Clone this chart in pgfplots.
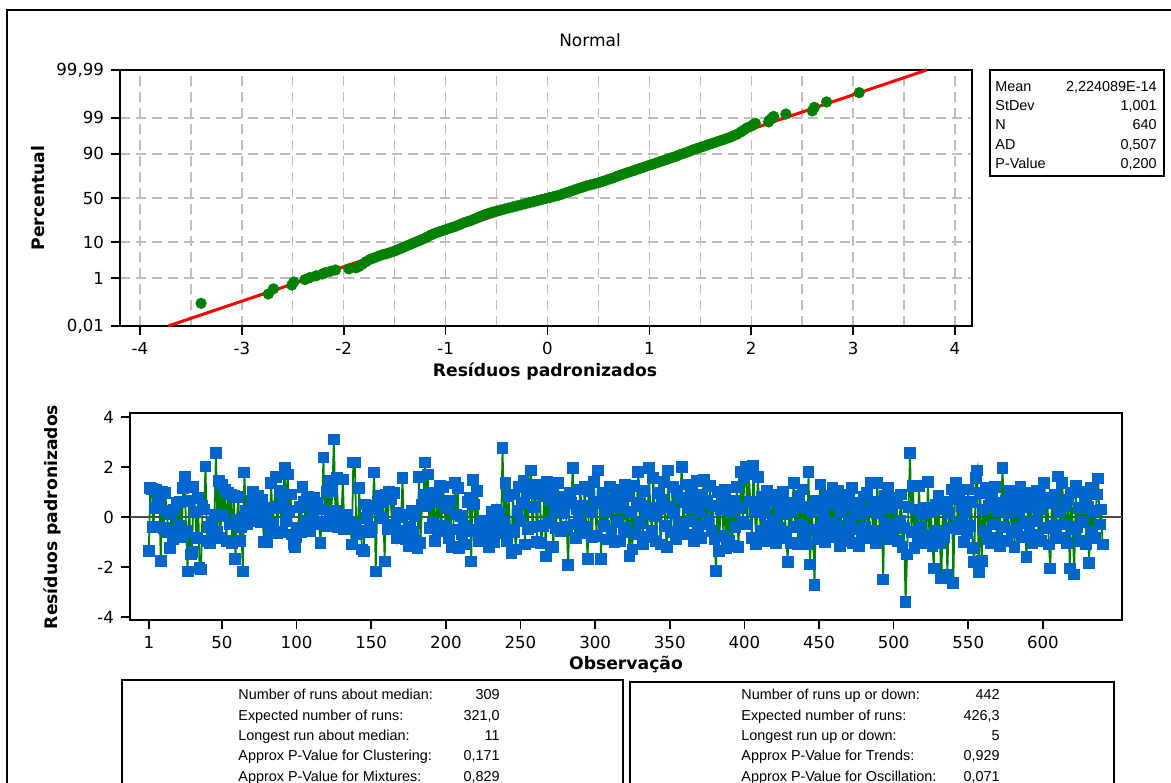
\documentclass[border=0pt]{standalone}
\usepackage{pgfplots}
\pgfplotsset{compat=1.18}
\usepackage{pgfplotstable}
\usepackage{fontspec}
\setmainfont{DejaVu Sans}
\newfontfamily\statfont{Liberation Sans}
\definecolor{mgreen}{RGB}{0,128,0}
\definecolor{mblue}{RGB}{0,102,204}
\definecolor{mred}{RGB}{255,0,0}
\definecolor{mgrid}{RGB}{190,190,190}

\pgfplotstableread[row sep=\\]{
y\\
-1.35\\ 1.15\\ 1.12\\ -0.40\\ 0.35\\ 1.10\\ 0.55\\ 0.80\\ -1.75\\ 1.00\\
-0.45\\ 0.95\\ 0.25\\ -0.60\\ -1.25\\ 0.10\\ -0.90\\ 0.30\\ -0.70\\ 0.55\\
-0.35\\ 0.60\\ -0.80\\ 1.15\\ 1.62\\ -0.55\\ -2.18\\ 0.65\\ -1.50\\ -1.40\\
1.20\\ 0.20\\ -0.85\\ 0.75\\ -2.05\\ -2.10\\ 0.45\\ 0.30\\ 2.02\\ -0.95\\
-0.40\\ -1.05\\ -0.20\\ -0.75\\ 0.10\\ 2.57\\ -0.60\\ 1.45\\ -0.85\\ 1.30\\
0.05\\ 1.10\\ -0.95\\ 0.95\\ -0.30\\ 0.90\\ -1.05\\ 0.85\\ -1.67\\ -0.10\\
0.80\\ -0.95\\ -0.40\\ -2.18\\ 1.78\\ 0.25\\ -0.30\\ 0.10\\ -0.15\\ 0.65\\
1.00\\ 0.40\\ -0.05\\ 0.85\\ 0.55\\ -0.20\\ 0.70\\ -1.00\\ 0.20\\ -1.00\\
0.30\\ -0.55\\ 1.35\\ -0.25\\ 0.35\\ 1.60\\ -0.65\\ 0.40\\ 1.05\\ -0.60\\
0.60\\ 1.95\\ -0.15\\ 1.70\\ 0.25\\ 0.90\\ -0.70\\ -1.10\\ -1.20\\ -0.80\\
-0.45\\ 0.40\\ -0.60\\ 1.20\\ 0.60\\ -0.15\\ 0.70\\ 0.80\\ -0.55\\ 0.45\\
0.10\\ 0.75\\ -0.30\\ 0.55\\ -0.20\\ -1.03\\ 0.30\\ 2.38\\ -0.25\\ 1.00\\
-0.35\\ 1.45\\ 0.05\\ 1.05\\ 3.10\\ 0.25\\ 1.55\\ -0.40\\ 0.05\\ -0.10\\
1.50\\ -0.50\\ -0.15\\ 0.10\\ -0.45\\ -0.20\\ -1.10\\ 2.18\\ 2.18\\ -0.30\\
-0.70\\ 1.15\\ -0.55\\ -1.30\\ -1.38\\ 0.50\\ -0.05\\ 0.30\\ -0.40\\ -0.60\\
0.45\\ 1.78\\ -2.18\\ 0.30\\ 0.65\\ 0.85\\ -0.05\\ 0.60\\ -1.78\\ 0.90\\
-0.50\\ 1.00\\ 0.70\\ -0.30\\ 0.95\\ -0.45\\ -0.85\\ 0.15\\ -0.55\\ 0.00\\
1.55\\ -0.75\\ -0.90\\ 0.10\\ -1.15\\ -0.40\\ 0.25\\ -0.60\\ 0.05\\ -0.95\\
-1.25\\ 1.60\\ -1.05\\ 0.50\\ 0.90\\ 2.18\\ 0.45\\ 1.70\\ -0.45\\ 0.95\\
-0.25\\ 0.60\\ -0.95\\ 0.80\\ -0.55\\ 1.25\\ -0.35\\ 1.20\\ 0.50\\ -0.40\\
0.35\\ -0.85\\ 0.65\\ -1.20\\ -0.50\\ 1.35\\ 0.10\\ 1.15\\ -1.25\\ 0.05\\
-0.70\\ -0.35\\ -1.10\\ -0.55\\ 0.60\\ 0.75\\ -1.78\\ 1.47\\ 0.50\\ -0.50\\
1.05\\ -0.95\\ -0.35\\ -0.15\\ -0.60\\ -0.25\\ -0.55\\ -0.90\\ -1.20\\ -0.35\\
0.20\\ -1.00\\ -0.10\\ 0.30\\ -0.65\\ 0.15\\ -0.55\\ 2.77\\ -0.20\\ 1.35\\
-0.95\\ 0.85\\ -0.50\\ -1.43\\ 0.90\\ -0.60\\ -1.30\\ 0.25\\ 1.20\\ -0.15\\
0.55\\ 1.45\\ -1.10\\ 0.95\\ -0.50\\ 1.25\\ 1.86\\ -0.40\\ 0.40\\ 1.30\\
-1.00\\ 0.90\\ 1.20\\ -1.05\\ -0.35\\ 0.85\\ -1.58\\ 1.40\\ -0.25\\ 0.70\\
1.10\\ -1.20\\ 0.25\\ -0.45\\ 1.35\\ 0.40\\ -0.55\\ 0.80\\ 0.15\\ 0.60\\
-0.40\\ -1.93\\ 0.95\\ 0.55\\ 1.97\\ -0.30\\ -0.85\\ 0.30\\ -0.15\\ 1.10\\
0.45\\ -0.65\\ 1.20\\ -0.40\\ -1.67\\ 1.05\\ 0.20\\ -0.80\\ 1.40\\ 0.55\\
-0.75\\ 1.86\\ 0.60\\ -1.67\\ 0.95\\ -0.35\\ 0.25\\ -0.90\\ 0.70\\ 1.20\\
-0.55\\ 0.40\\ -1.00\\ 0.75\\ -0.20\\ 1.10\\ -0.95\\ 0.35\\ -0.60\\ 1.30\\
-0.45\\ 0.85\\ -1.55\\ 0.20\\ -1.30\\ 1.25\\ -0.70\\ 0.55\\ 1.80\\ -0.25\\
0.45\\ -1.10\\ 1.05\\ 0.10\\ -0.80\\ 1.97\\ 0.35\\ -0.55\\ 1.55\\ 0.05\\
-0.95\\ 0.95\\ 0.30\\ -1.10\\ 0.70\\ 1.40\\ -0.35\\ -1.20\\ 1.86\\ 0.40\\
-0.60\\ 1.20\\ 0.15\\ -0.90\\ 1.05\\ -0.25\\ 0.75\\ 2.00\\ -0.50\\ 0.60\\
1.30\\ -0.70\\ 0.35\\ -0.15\\ 1.00\\ -0.95\\ 0.55\\ 1.45\\ -0.40\\ 0.20\\
-0.85\\ 0.90\\ 1.50\\ -0.30\\ 0.65\\ -0.10\\ 1.25\\ -0.55\\ 0.45\\ -0.90\\
-2.17\\ 1.00\\ -1.35\\ 0.30\\ 0.75\\ -0.75\\ 1.10\\ -1.25\\ 0.55\\ -0.95\\
0.20\\ -1.15\\ 0.65\\ -0.40\\ 1.20\\ -1.20\\ 0.35\\ 1.80\\ -0.20\\ 1.55\\
2.00\\ -0.30\\ 1.70\\ 0.60\\ -0.85\\ 2.06\\ 0.25\\ -1.10\\ 1.60\\ 0.40\\
-0.55\\ 0.80\\ -0.95\\ 0.15\\ 1.05\\ -0.35\\ 0.65\\ -0.70\\ 0.90\\ -0.15\\
-1.05\\ 0.70\\ -0.45\\ 0.30\\ -0.85\\ 1.00\\ 0.10\\ -0.60\\ -1.80\\ 0.55\\
-1.05\\ 0.25\\ 1.35\\ -0.40\\ 0.45\\ -1.10\\ 0.85\\ -0.30\\ 1.10\\ -0.75\\
0.40\\ -1.10\\ 1.80\\ -1.90\\ 0.20\\ -0.50\\ -2.73\\ 0.65\\ -0.90\\ 0.35\\
1.30\\ -0.45\\ 0.05\\ -1.00\\ 0.85\\ -0.60\\ 0.50\\ -0.25\\ 1.15\\ -0.80\\
0.60\\ -0.35\\ 1.05\\ -1.15\\ 0.20\\ 0.90\\ -0.65\\ 0.45\\ -0.95\\ 0.70\\
-0.20\\ 1.15\\ -1.05\\ 0.30\\ -0.50\\ 0.55\\ -1.15\\ 0.10\\ -0.75\\ 0.80\\
-0.40\\ 0.95\\ -0.85\\ 0.25\\ 1.35\\ -0.55\\ 0.60\\ -1.05\\ 1.35\\ 0.15\\
-0.70\\ 0.45\\ -2.50\\ 0.85\\ -0.25\\ 1.15\\ -0.90\\ 0.35\\ -0.60\\ 0.75\\
-0.30\\ 0.55\\ -0.95\\ -0.15\\ 0.90\\ -1.20\\ -0.45\\ -3.40\\ -1.50\\ 0.40\\
2.57\\ -0.60\\ 1.25\\ -1.25\\ 0.30\\ -0.85\\ 1.25\\ -0.40\\ 0.10\\ -1.05\\
0.35\\ -0.70\\ 1.39\\ -0.90\\ 0.20\\ -1.15\\ -2.06\\ 0.50\\ -0.55\\ 0.85\\
-1.05\\ -2.46\\ 0.30\\ -0.80\\ 0.60\\ -2.30\\ 0.15\\ -0.45\\ 1.10\\ -2.65\\
0.70\\ 1.35\\ -0.50\\ 0.90\\ -0.25\\ 0.45\\ -1.00\\ 0.20\\ -0.65\\ 1.10\\
-0.35\\ 0.60\\ -1.25\\ -1.80\\ 1.55\\ 1.86\\ -2.20\\ 0.95\\ -1.75\\ 0.30\\
-0.55\\ 1.15\\ -0.90\\ 0.45\\ -1.05\\ 0.75\\ -0.30\\ 1.20\\ -0.85\\ 0.25\\
-1.15\\ 0.55\\ 1.95\\ -0.40\\ 0.65\\ -0.95\\ 0.15\\ 1.05\\ -0.60\\ 0.35\\
-1.20\\ 0.85\\ -0.45\\ 0.25\\ 1.20\\ -0.80\\ 0.50\\ -0.25\\ -1.60\\ 0.95\\
-0.55\\ 0.40\\ -1.05\\ 0.70\\ -0.15\\ 1.05\\ -0.70\\ 0.30\\ -0.95\\ 0.60\\
1.37\\ -0.45\\ 0.75\\ -1.10\\ -2.06\\ 0.55\\ -0.35\\ 0.90\\ -0.75\\ 1.62\\
0.20\\ -0.85\\ 1.35\\ -0.30\\ 0.45\\ -1.05\\ 0.70\\ -2.06\\ 0.95\\ -0.50\\
-2.30\\ 1.25\\ -0.40\\ 0.35\\ -0.95\\ 1.00\\ -0.20\\ 0.70\\ -1.10\\ 0.40\\
-1.83\\ 1.15\\ -0.60\\ 0.25\\ -0.85\\ 0.90\\ 1.54\\ -0.30\\ 0.30\\ -1.10\\
}\resid

\begin{document}
\begin{tikzpicture}[x=1pt,y=1pt]
\useasboundingbox (0,0) rectangle (585.5,391);
\clip (0,0) rectangle (585.5,391);

% ---------- normal probability plot ----------
\begin{axis}[
  at={(60pt,228pt)}, anchor=south west,
  width=426pt, height=128pt, scale only axis,
  xmin=-4.196, xmax=4.167, ymin=-3.719, ymax=3.719,
  xtick={-4,-3,-2,-1,0,1,2,3,4},
  xticklabels={-4,-3,-2,-1,0,1,2,3,4},
  minor xtick={-3.5,-2.5,-1.5,-0.5,0.5,1.5,2.5,3.5},
  ytick={-3.719,-2.326,-1.2816,0,1.2816,2.326,3.719},
  yticklabels={{0,01},1,10,50,90,99,{99,99}},
  xmajorgrids, xminorgrids, ymajorgrids,
  grid style={mgrid, line width=0.7pt, dash pattern=on 5pt off 3pt},
  minor grid style={mgrid, line width=0.7pt, dash pattern=on 5pt off 3pt},
  tick align=outside, tick pos=left,
  major tick length=4.5pt, minor tick length=0pt,
  tick style={black, line width=0.8pt},
  axis line style={line width=0.9pt},
  ticklabel style={font=\fontsize{8.3}{10}\selectfont},
  clip=false,
]
\addplot[mred, line width=1.5pt] coordinates {(-3.723,-3.719) (3.723,3.719)};
\addplot[only marks, mark=*, mark size=2.6pt, mark options={fill=mgreen, draw=mgreen}] coordinates {
(-3.40,-3.06) (-2.74,-2.79) (-2.69,-2.64) (-2.51,-2.53) (-2.49,-2.44) (-2.38,-2.37)
(-2.33,-2.31) (-2.27,-2.26) (-2.21,-2.21) (-2.18,-2.17) (-2.13,-2.13) (-2.08,-2.09)
(-1.95,-2.06) (-1.88,-2.03)
(-1.85,-1.99) (-1.82,-1.93) (-1.78,-1.85) (-1.74,-1.78) (-1.70,-1.74) (-1.66,-1.69)
(-1.62,-1.65) (-1.58,-1.62) (-1.54,-1.58) (-1.50,-1.54) (-1.46,-1.49) (-1.42,-1.44)
(-1.38,-1.39) (-1.34,-1.34) (-1.30,-1.29) (-1.26,-1.24) (-1.22,-1.19) (-1.18,-1.13)
(-1.14,-1.07) (-1.10,-1.02) (-1.06,-0.98) (-1.02,-0.94) (-0.98,-0.90) (-0.94,-0.86)
(-0.90,-0.82) (-0.86,-0.77) (-0.82,-0.72) (-0.78,-0.68) (-0.74,-0.64) (-0.70,-0.59)
(-0.66,-0.54) (-0.62,-0.49) (-0.58,-0.45) (-0.54,-0.41) (-0.50,-0.38) (-0.46,-0.35)
(-0.42,-0.32) (-0.38,-0.29) (-0.34,-0.26) (-0.30,-0.23) (-0.26,-0.20) (-0.22,-0.17)
(-0.18,-0.14) (-0.14,-0.11) (-0.10,-0.08) (-0.06,-0.05) (-0.02,-0.02) (0.02,0.01)
(0.06,0.04) (0.10,0.07) (0.14,0.11) (0.18,0.15) (0.22,0.19) (0.26,0.23)
(0.30,0.27) (0.34,0.31) (0.38,0.35) (0.42,0.38) (0.46,0.41) (0.50,0.44)
(0.54,0.48) (0.58,0.52) (0.62,0.56) (0.66,0.60) (0.70,0.65) (0.74,0.69)
(0.78,0.73) (0.82,0.77) (0.86,0.81) (0.90,0.85) (0.94,0.89) (0.98,0.93)
(1.02,0.97) (1.06,1.01) (1.10,1.05) (1.14,1.09) (1.18,1.13) (1.22,1.17)
(1.26,1.21) (1.30,1.26) (1.34,1.30) (1.38,1.34) (1.42,1.39) (1.46,1.43)
(1.50,1.47) (1.54,1.51) (1.58,1.55) (1.62,1.59) (1.66,1.63) (1.70,1.67)
(1.74,1.71) (1.78,1.75) (1.82,1.80) (1.86,1.85) (1.90,1.92) (1.93,1.98)
(1.96,2.04) (2.00,2.09) (2.02,2.13) (2.04,2.17) (2.17,2.21) (2.18,2.26)
(2.20,2.31) (2.22,2.37) (2.34,2.44) (2.60,2.53) (2.62,2.635) (2.74,2.79)
(3.06,3.06)
};
\end{axis}

% ---------- run chart ----------
\begin{axis}[
  at={(65pt,81pt)}, anchor=south west,
  width=496pt, height=103.5pt, scale only axis,
  xmin=-11.6, xmax=653, ymin=-4.12, ymax=4.16,
  xtick={1,50,100,150,200,250,300,350,400,450,500,550,600},
  xticklabels={1,50,100,150,200,250,300,350,400,450,500,550,600},
  ytick={-4,-2,0,2,4},
  yticklabels={-4,-2,0,2,4},
  tick align=outside, tick pos=left,
  major tick length=4.5pt,
  tick style={black, line width=0.8pt},
  axis line style={line width=0.9pt},
  ticklabel style={font=\fontsize{8.3}{10}\selectfont},
]
\addplot[black!70, line width=0.9pt] coordinates {(-11.6,0) (653,0)};
\addplot[mgreen, line width=0.9pt, mark=square*, mark size=2.5pt,
  mark options={fill=mblue, draw=mblue, solid}]
  table[x expr=\coordindex+1, y=y] {\resid};
\end{axis}

% ---------- texts ----------
\node[font=\fontsize{8.5}{10}\selectfont] at (295,371) {Normal};
\node[font=\bfseries\fontsize{8.6}{10}\selectfont, rotate=90] at (19,292) {Percentual};
\node[font=\bfseries\fontsize{8.6}{10}\selectfont] at (272.5,205.5) {Resíduos padronizados};
\node[font=\bfseries\fontsize{8.6}{10}\selectfont, rotate=90] at (26,132.5) {Resíduos padronizados};
\node[font=\bfseries\fontsize{8.6}{10}\selectfont] at (313,59) {Observação};

% outer frame
\draw[line width=0.8pt] (3.5,-10) -- (3.5,386) -- (600,386);

% stats box (top right)
\draw[line width=0.9pt] (495,356) rectangle (582,303);
\begin{scope}[every node/.style={font=\statfont\fontsize{7.2}{8}\selectfont, inner sep=0pt}]
\node[anchor=base west] at (497.5,345) {Mean};
\node[anchor=base east] at (578.5,345) {2,224089E-14};
\node[anchor=base west] at (497.5,335.5) {StDev};
\node[anchor=base east] at (578.5,335.5) {1,001};
\node[anchor=base west] at (497.5,326) {N};
\node[anchor=base east] at (578.5,326) {640};
\node[anchor=base west] at (497.5,316) {AD};
\node[anchor=base east] at (578.5,316) {0,507};
\node[anchor=base west] at (497.5,306.5) {P-Value};
\node[anchor=base east] at (578.5,306.5) {0,200};

% bottom left box
\node[anchor=base west] at (119,41.4) {Number of runs about median:};
\node[anchor=base east] at (250,41.4) {309};
\node[anchor=base west] at (119,30.9) {Expected number of runs:};
\node[anchor=base east] at (250,30.9) {321,0};
\node[anchor=base west] at (119,20.9) {Longest run about median:};
\node[anchor=base east] at (250,20.9) {11};
\node[anchor=base west] at (119,10.9) {Approx P-Value for Clustering:};
\node[anchor=base east] at (250,10.9) {0,171};
\node[anchor=base west] at (119,0.4) {Approx P-Value for Mixtures:};
\node[anchor=base east] at (250,0.4) {0,829};

% bottom right box
\node[anchor=base west] at (370.5,41.4) {Number of runs up or down:};
\node[anchor=base east] at (500,41.4) {442};
\node[anchor=base west] at (370.5,30.9) {Expected number of runs:};
\node[anchor=base east] at (500,30.9) {426,3};
\node[anchor=base west] at (370.5,20.9) {Longest run up or down:};
\node[anchor=base east] at (500,20.9) {5};
\node[anchor=base west] at (370.5,10.9) {Approx P-Value for Trends:};
\node[anchor=base east] at (500,10.9) {0,929};
\node[anchor=base west] at (370.5,0.4) {Approx P-Value for Oscillation:};
\node[anchor=base east] at (500,0.4) {0,071};
\end{scope}
\draw[line width=0.9pt] (61,-10) -- (61,51) -- (311.5,51) -- (311.5,-10);
\draw[line width=0.9pt] (315,-10) -- (315,50) -- (557,50) -- (557,-10);
\end{tikzpicture}
\end{document}
